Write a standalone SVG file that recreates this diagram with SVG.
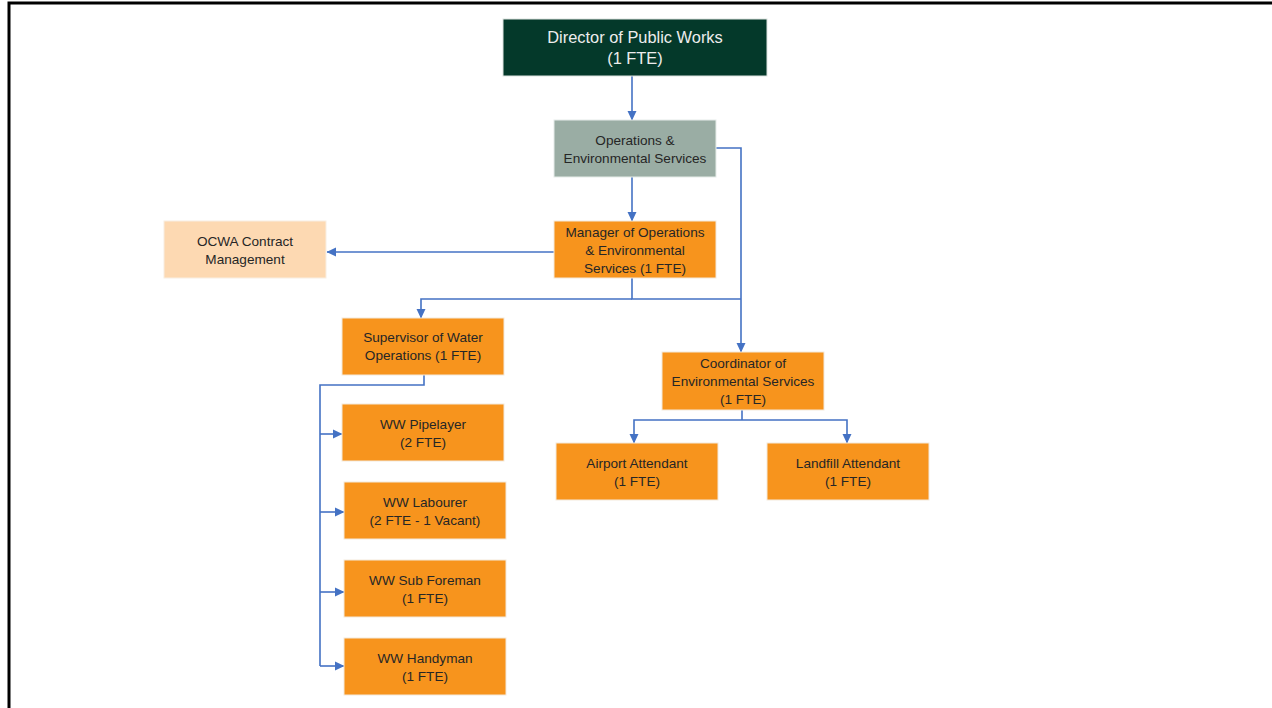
<svg xmlns="http://www.w3.org/2000/svg" width="1272" height="708" viewBox="0 0 1272 708">
<style>
.box{fill:#F7941D;stroke:#F3E9DC;stroke-width:1}
.t{font-family:"Liberation Sans",Arial,sans-serif;font-size:13.6px;fill:#262626;text-anchor:middle}
.c{fill:none;stroke:#4472C4;stroke-width:1.6}
</style>
<defs>
<marker id="ah" markerWidth="10" markerHeight="10" refX="9" refY="5" orient="auto" markerUnits="userSpaceOnUse">
<path d="M0,0.5 L9.5,5 L0,9.5 Z" fill="#4472C4"/>
</marker>
</defs>
<rect x="0" y="0" width="1272" height="708" fill="#ffffff"/>
<path d="M9,708 V3 H1272" fill="none" stroke="#000" stroke-width="3"/>

<g id="connectors">
<path class="c" d="M632,76 V120" marker-end="url(#ah)"/>
<path class="c" d="M632,177 V221" marker-end="url(#ah)"/>
<path class="c" d="M716,148 H741 V352" marker-end="url(#ah)"/>
<path class="c" d="M554,252 H327" marker-end="url(#ah)"/>
<path class="c" d="M632,278 V299 H741"/>
<path class="c" d="M632,299 H421 V318" marker-end="url(#ah)"/>
<path class="c" d="M424,375 V385 H320 V666"/>
<path class="c" d="M320,434 H342" marker-end="url(#ah)"/>
<path class="c" d="M320,512 H344" marker-end="url(#ah)"/>
<path class="c" d="M320,592 H344" marker-end="url(#ah)"/>
<path class="c" d="M320,666 H344" marker-end="url(#ah)"/>
<path class="c" d="M742,410 V420"/>
<path class="c" d="M742,420 H634 V443" marker-end="url(#ah)"/>
<path class="c" d="M742,420 H847 V443" marker-end="url(#ah)"/>
</g>

<g id="director">
<rect x="503" y="19" width="264" height="57" fill="#04392A" stroke="#DDE3E0" stroke-width="1"/>
<text class="t" x="635" y="42.5" style="font-size:16.4px;fill:#EDEDED">Director of Public Works</text>
<text class="t" x="635" y="63.5" style="font-size:16.4px;fill:#EDEDED">(1 FTE)</text>
</g>

<g id="ops">
<rect x="554" y="120" width="162" height="57" fill="#9AADA4" stroke="#E6ECE9" stroke-width="1"/>
<text class="t" x="635" y="144.8">Operations &amp;</text>
<text class="t" x="635" y="162.8">Environmental Services</text>
</g>

<g id="manager">
<rect class="box" x="554" y="221" width="162" height="57"/>
<text class="t" x="635" y="236.8">Manager of Operations</text>
<text class="t" x="635" y="254.8">&amp; Environmental</text>
<text class="t" x="635" y="272.8">Services (1 FTE)</text>
</g>

<g id="ocwa">
<rect x="164" y="221" width="162" height="57" fill="#FDD9B2" stroke="#F8EEE2" stroke-width="1"/>
<text class="t" x="245" y="245.8">OCWA Contract</text>
<text class="t" x="245" y="263.8">Management</text>
</g>

<g id="supervisor">
<rect class="box" x="342" y="318" width="162" height="57"/>
<text class="t" x="423" y="341.8">Supervisor of Water</text>
<text class="t" x="423" y="359.8">Operations (1 FTE)</text>
</g>

<g id="pipelayer">
<rect class="box" x="342" y="404" width="162" height="57"/>
<text class="t" x="423" y="428.8">WW Pipelayer</text>
<text class="t" x="423" y="446.8">(2 FTE)</text>
</g>

<g id="labourer">
<rect class="box" x="344" y="482" width="162" height="57"/>
<text class="t" x="425" y="506.8">WW Labourer</text>
<text class="t" x="425" y="524.8">(2 FTE - 1 Vacant)</text>
</g>

<g id="subforeman">
<rect class="box" x="344" y="560" width="162" height="57"/>
<text class="t" x="425" y="584.8">WW Sub Foreman</text>
<text class="t" x="425" y="602.8">(1 FTE)</text>
</g>

<g id="handyman">
<rect class="box" x="344" y="638" width="162" height="57"/>
<text class="t" x="425" y="662.8">WW Handyman</text>
<text class="t" x="425" y="680.8">(1 FTE)</text>
</g>

<g id="coordinator">
<rect class="box" x="662" y="352" width="162" height="58"/>
<text class="t" x="743" y="367.8">Coordinator of</text>
<text class="t" x="743" y="385.8">Environmental Services</text>
<text class="t" x="743" y="403.8">(1 FTE)</text>
</g>

<g id="airport">
<rect class="box" x="556" y="443" width="162" height="57"/>
<text class="t" x="637" y="467.8">Airport Attendant</text>
<text class="t" x="637" y="485.8">(1 FTE)</text>
</g>

<g id="landfill">
<rect class="box" x="767" y="443" width="162" height="57"/>
<text class="t" x="848" y="467.8">Landfill Attendant</text>
<text class="t" x="848" y="485.8">(1 FTE)</text>
</g>
</svg>
